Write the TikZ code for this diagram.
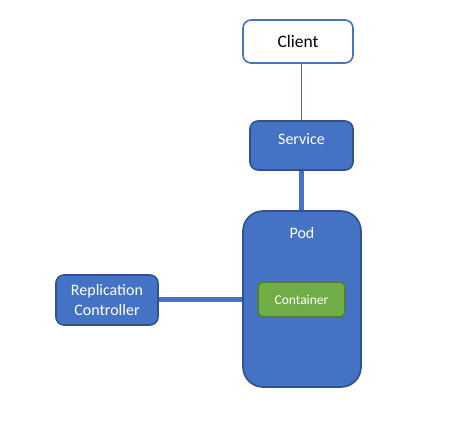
\documentclass[tikz,border=0pt]{standalone}
\usepackage{fontspec}
\setmainfont{Carlito}
\usetikzlibrary{calc}
\definecolor{boxblue}{HTML}{4472C4}
\definecolor{edgeblue}{HTML}{2F528F}
\definecolor{boxgreen}{HTML}{70AD47}
\definecolor{edgegreen}{HTML}{507E32}
\tikzset{
  bluebox/.style={draw=edgeblue,fill=boxblue,line width=1.6pt,rounded corners=8pt,
    text=white,align=center,inner sep=0pt,font=\fontsize{16}{19.5}\selectfont},
  whitebox/.style={draw=boxblue,fill=white,line width=1.6pt,rounded corners=8pt,
    text=black,inner sep=0pt,font=\fontsize{17.5}{21}\selectfont},
  greenbox/.style={draw=edgegreen,fill=boxgreen,line width=1.6pt,rounded corners=5pt,
    text=white,inner sep=0pt,font=\fontsize{13.5}{16}\selectfont},
  thinlink/.style={draw=boxblue,line width=1pt},
  thicklink/.style={draw=boxblue,line width=5pt}
}
\newcommand{\cell}[7]{\node[#6,minimum width=#4,minimum height=#5] (#1) at ( #2 , #3 ) {#7};}

\begin{document}
\begin{tikzpicture}[x=1pt,y=-1pt]
        \useasboundingbox (0,0) rectangle (474,446);
        % boxes
        \cell{client}{298}{41.5}{110pt}{43pt}{whitebox}{Client}
        \cell{service}{301.5}{145.5}{103pt}{49pt}{bluebox,text depth=13pt}{Service}
        \cell{pod}{302}{299}{118pt}{176pt}{bluebox,rounded corners=20pt}{}
        \node[text=white,font=\fontsize{16}{19.5}\selectfont] (podname) at (302,233) {Pod};
        \cell{container}{301.5}{299.5}{87pt}{35pt}{greenbox}{Container}
        \cell{rc}{107}{300}{102pt}{50pt}{bluebox}{Replication\\Controller}

        % links
        \draw[thinlink] (service.north) -- (service.north |- client.south);
        \draw[thicklink] (service.south) -- (service.south |- pod.north);
        \draw[thicklink] (rc.east) -- (rc.east -| pod.west);
    \end{tikzpicture}
\end{document}
